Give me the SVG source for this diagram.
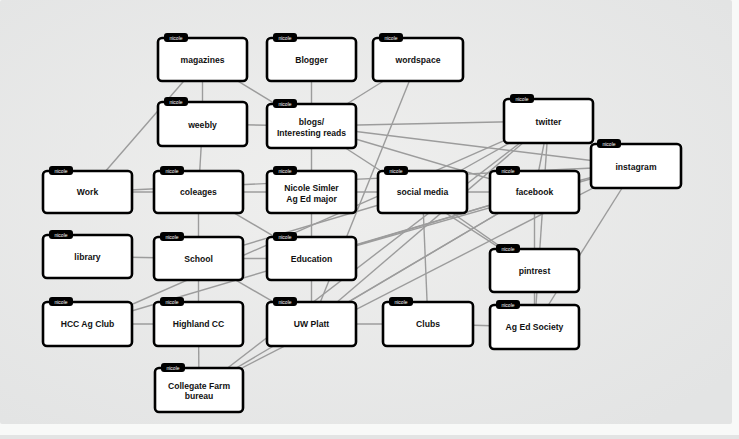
<svg xmlns="http://www.w3.org/2000/svg" width="739" height="439" viewBox="0 0 739 439">
<defs>
<radialGradient id="bg" cx="0.45" cy="0.45" r="0.7">
<stop offset="0" stop-color="#efefee"/>
<stop offset="1" stop-color="#e3e4e4"/>
</radialGradient>
</defs>
<style>
.e line{stroke:#9c9c9c;stroke-width:1.4;fill:none}
.box{fill:#fff;stroke:#000;stroke-width:2.6}
.tab{fill:#000}
.tt{font-family:"Liberation Sans",Arial,sans-serif;font-size:5px;fill:#fff;text-anchor:middle}
.lb{font-family:"Liberation Sans",Arial,sans-serif;font-size:8.6px;font-weight:bold;fill:#111;text-anchor:middle}
</style>
<rect x="0" y="0" width="739" height="439" fill="#f8f9f8"/>
<rect x="0" y="0" width="732" height="424" rx="2" fill="url(#bg)"/>
<rect x="0" y="435" width="739" height="4" fill="#e3e4e4"/>
<g id="connectors" class="e">
<line x1="202.5" y1="59.5" x2="202.5" y2="124"/>
<line x1="202.5" y1="59.5" x2="311.5" y2="126"/>
<line x1="202.5" y1="59.5" x2="87.5" y2="192"/>
<line x1="311.5" y1="59.5" x2="311.5" y2="126"/>
<line x1="202.5" y1="124" x2="311.5" y2="126"/>
<line x1="202.5" y1="124" x2="198.5" y2="192"/>
<line x1="311.5" y1="126" x2="311.5" y2="192"/>
<line x1="311.5" y1="126" x2="418" y2="59.5"/>
<line x1="311.5" y1="126" x2="548.5" y2="121"/>
<line x1="311.5" y1="126" x2="636" y2="166"/>
<line x1="311.5" y1="126" x2="534.5" y2="192"/>
<line x1="311.5" y1="126" x2="534.5" y2="270.5"/>
<line x1="418" y1="59.5" x2="311.5" y2="324"/>
<line x1="87.5" y1="192" x2="198.5" y2="192"/>
<line x1="87.5" y1="192" x2="636" y2="166"/>
<line x1="198.5" y1="192" x2="311.5" y2="192"/>
<line x1="198.5" y1="192" x2="198.5" y2="258.5"/>
<line x1="198.5" y1="192" x2="311.5" y2="258.5"/>
<line x1="311.5" y1="192" x2="311.5" y2="258.5"/>
<line x1="311.5" y1="192" x2="422.5" y2="192"/>
<line x1="87.5" y1="256.5" x2="198.5" y2="258.5"/>
<line x1="198.5" y1="258.5" x2="311.5" y2="258.5"/>
<line x1="198.5" y1="258.5" x2="198.5" y2="324"/>
<line x1="198.5" y1="258.5" x2="311.5" y2="324"/>
<line x1="198.5" y1="258.5" x2="422.5" y2="192"/>
<line x1="311.5" y1="258.5" x2="311.5" y2="324"/>
<line x1="311.5" y1="258.5" x2="534.5" y2="192"/>
<line x1="311.5" y1="258.5" x2="636" y2="166"/>
<line x1="87.5" y1="324" x2="198.5" y2="324"/>
<line x1="87.5" y1="324" x2="548.5" y2="121"/>
<line x1="87.5" y1="324" x2="534.5" y2="192"/>
<line x1="198.5" y1="324" x2="199" y2="390"/>
<line x1="311.5" y1="324" x2="428" y2="324"/>
<line x1="311.5" y1="324" x2="548.5" y2="121"/>
<line x1="311.5" y1="324" x2="534.5" y2="192"/>
<line x1="199" y1="390" x2="548.5" y2="121"/>
<line x1="199" y1="390" x2="534.5" y2="192"/>
<line x1="199" y1="390" x2="636" y2="166"/>
<line x1="422.5" y1="192" x2="534.5" y2="192"/>
<line x1="422.5" y1="192" x2="548.5" y2="121"/>
<line x1="422.5" y1="192" x2="428" y2="324"/>
<line x1="422.5" y1="192" x2="534.5" y2="270.5"/>
<line x1="548.5" y1="121" x2="534.5" y2="192"/>
<line x1="548.5" y1="121" x2="534.5" y2="327"/>
<line x1="534.5" y1="192" x2="534.5" y2="327"/>
<line x1="534.5" y1="192" x2="636" y2="166"/>
<line x1="636" y1="166" x2="534.5" y2="327"/>
<line x1="428" y1="324" x2="534.5" y2="327"/>
</g>
<g id="n-magazines"><rect class="box" x="158" y="38" width="89" height="43" rx="4"/><rect class="tab" x="164" y="33" width="24" height="9" rx="3"/><text class="tt" x="176" y="39.5">nicole</text><text class="lb" x="202.5" y="62.5">magazines</text></g>
<g id="n-blogger"><rect class="box" x="267" y="38" width="89" height="43" rx="4"/><rect class="tab" x="273" y="33" width="24" height="9" rx="3"/><text class="tt" x="285" y="39.5">nicole</text><text class="lb" x="311.5" y="62.5">Blogger</text></g>
<g id="n-wordspace"><rect class="box" x="373" y="38" width="90" height="43" rx="4"/><rect class="tab" x="379" y="33" width="24" height="9" rx="3"/><text class="tt" x="391" y="39.5">nicole</text><text class="lb" x="418" y="62.5">wordspace</text></g>
<g id="n-weebly"><rect class="box" x="158" y="102" width="89" height="44" rx="4"/><rect class="tab" x="164" y="97" width="24" height="9" rx="3"/><text class="tt" x="176" y="103.5">nicole</text><text class="lb" x="202.5" y="127.5">weebly</text></g>
<g id="n-blogs"><rect class="box" x="267" y="104" width="89" height="44" rx="4"/><rect class="tab" x="273" y="99" width="24" height="9" rx="3"/><text class="tt" x="285" y="105.5">nicole</text><text class="lb" x="311.5" y="124.5">blogs/</text><text class="lb" x="311.5" y="135.5">Interesting reads</text></g>
<g id="n-twitter"><rect class="box" x="504" y="99" width="89" height="44" rx="4"/><rect class="tab" x="510" y="94" width="24" height="9" rx="3"/><text class="tt" x="522" y="100.5">nicole</text><text class="lb" x="548.5" y="124.5">twitter</text></g>
<g id="n-instagram"><rect class="box" x="591" y="144" width="90" height="44" rx="4"/><rect class="tab" x="597" y="139" width="24" height="9" rx="3"/><text class="tt" x="609" y="145.5">nicole</text><text class="lb" x="636" y="169.5">instagram</text></g>
<g id="n-work"><rect class="box" x="43" y="171" width="89" height="42" rx="4"/><rect class="tab" x="49" y="166" width="24" height="9" rx="3"/><text class="tt" x="61" y="172.5">nicole</text><text class="lb" x="87.5" y="195">Work</text></g>
<g id="n-coleages"><rect class="box" x="154" y="171" width="89" height="42" rx="4"/><rect class="tab" x="160" y="166" width="24" height="9" rx="3"/><text class="tt" x="172" y="172.5">nicole</text><text class="lb" x="198.5" y="195">coleages</text></g>
<g id="n-nicole"><rect class="box" x="267" y="171" width="89" height="42" rx="4"/><rect class="tab" x="273" y="166" width="24" height="9" rx="3"/><text class="tt" x="285" y="172.5">nicole</text><text class="lb" x="311.5" y="190.5">Nicole Simler</text><text class="lb" x="311.5" y="202">Ag Ed major</text></g>
<g id="n-social"><rect class="box" x="378" y="171" width="89" height="42" rx="4"/><rect class="tab" x="384" y="166" width="24" height="9" rx="3"/><text class="tt" x="396" y="172.5">nicole</text><text class="lb" x="422.5" y="195">social media</text></g>
<g id="n-facebook"><rect class="box" x="490" y="171" width="89" height="42" rx="4"/><rect class="tab" x="496" y="166" width="24" height="9" rx="3"/><text class="tt" x="508" y="172.5">nicole</text><text class="lb" x="534.5" y="195">facebook</text></g>
<g id="n-library"><rect class="box" x="43" y="235" width="89" height="43" rx="4"/><rect class="tab" x="49" y="230" width="24" height="9" rx="3"/><text class="tt" x="61" y="236.5">nicole</text><text class="lb" x="87.5" y="259.5">library</text></g>
<g id="n-school"><rect class="box" x="154" y="237" width="89" height="43" rx="4"/><rect class="tab" x="160" y="232" width="24" height="9" rx="3"/><text class="tt" x="172" y="238.5">nicole</text><text class="lb" x="198.5" y="261.5">School</text></g>
<g id="n-education"><rect class="box" x="267" y="237" width="89" height="43" rx="4"/><rect class="tab" x="273" y="232" width="24" height="9" rx="3"/><text class="tt" x="285" y="238.5">nicole</text><text class="lb" x="311.5" y="261.5">Education</text></g>
<g id="n-pintrest"><rect class="box" x="490" y="249" width="89" height="43" rx="4"/><rect class="tab" x="496" y="244" width="24" height="9" rx="3"/><text class="tt" x="508" y="250.5">nicole</text><text class="lb" x="534.5" y="273.5">pintrest</text></g>
<g id="n-hcc"><rect class="box" x="43" y="302" width="89" height="44" rx="4"/><rect class="tab" x="49" y="297" width="24" height="9" rx="3"/><text class="tt" x="61" y="303.5">nicole</text><text class="lb" x="87.5" y="327">HCC Ag Club</text></g>
<g id="n-highland"><rect class="box" x="154" y="302" width="89" height="44" rx="4"/><rect class="tab" x="160" y="297" width="24" height="9" rx="3"/><text class="tt" x="172" y="303.5">nicole</text><text class="lb" x="198.5" y="327">Highland CC</text></g>
<g id="n-uwplatt"><rect class="box" x="267" y="302" width="89" height="44" rx="4"/><rect class="tab" x="273" y="297" width="24" height="9" rx="3"/><text class="tt" x="285" y="303.5">nicole</text><text class="lb" x="311.5" y="327">UW Platt</text></g>
<g id="n-clubs"><rect class="box" x="383" y="302" width="90" height="44" rx="4"/><rect class="tab" x="389" y="297" width="24" height="9" rx="3"/><text class="tt" x="401" y="303.5">nicole</text><text class="lb" x="428" y="327">Clubs</text></g>
<g id="n-agedsociety"><rect class="box" x="490" y="305" width="89" height="44" rx="4"/><rect class="tab" x="496" y="300" width="24" height="9" rx="3"/><text class="tt" x="508" y="306.5">nicole</text><text class="lb" x="534.5" y="330">Ag Ed Society</text></g>
<g id="n-collegate"><rect class="box" x="155" y="368" width="88" height="44" rx="4"/><rect class="tab" x="161" y="363" width="24" height="9" rx="3"/><text class="tt" x="173" y="369.5">nicole</text><text class="lb" x="199" y="388.5">Collegate Farm</text><text class="lb" x="199" y="399">bureau</text></g>
</svg>
